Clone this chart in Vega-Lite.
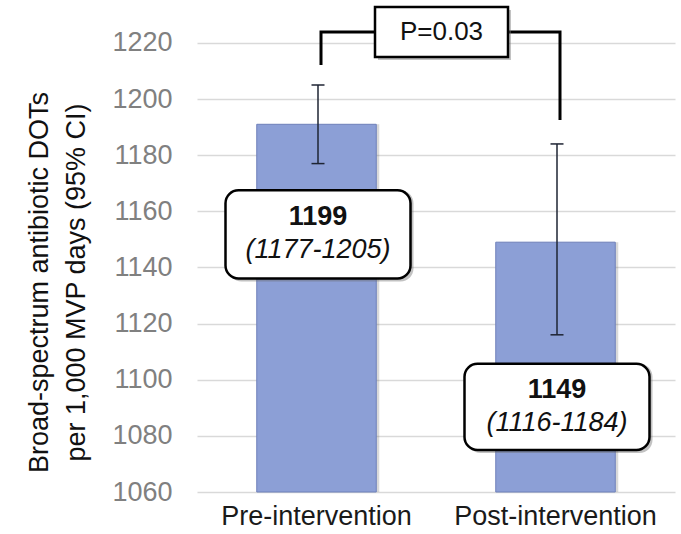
{
  "$schema": "https://vega.github.io/schema/vega-lite/v6.json",
  "width": 478,
  "height": 487,
  "autosize": {"type": "none"},
  "padding": {"left": 197, "top": 5, "right": 6, "bottom": 42},
  "background": "white",
  "config": {"view": {"stroke": null}, "font": "Liberation Sans"},
  "datasets": {
    "bars": [
      {"group": "Pre-intervention", "rate": 1191, "lo": 1177, "hi": 1205, "main": "1199", "ci": "(1177-1205)", "box_lo": 1136.1, "box_hi": 1167.5, "label_y": 1151.8},
      {"group": "Post-intervention", "rate": 1149, "lo": 1116, "hi": 1184, "main": "1149", "ci": "(1116-1184)", "box_lo": 1075.0, "box_hi": 1105.7, "label_y": 1090.4}
    ],
    "bracket": [
      {"group": "Pre-intervention", "y": 1212.1, "o": 1},
      {"group": "Pre-intervention", "y": 1223.9, "o": 2},
      {"group": "Post-intervention", "y": 1223.9, "o": 3},
      {"group": "Post-intervention", "y": 1192.5, "o": 4}
    ],
    "pval": [
      {"group": "Post-intervention", "y": 1223.9, "text": "P=0.03"}
    ]
  },
  "encoding": {
    "x": {
      "field": "group",
      "type": "nominal",
      "sort": ["Pre-intervention", "Post-intervention"],
      "scale": {"paddingInner": 0.5, "paddingOuter": 0.25},
      "axis": {"title": null, "labelAngle": 0, "labelFontSize": 27, "labelColor": "#1a1a1a", "labelPadding": 11, "labelLimit": 400, "domain": false, "ticks": false, "labelFont": "Liberation Sans"}
    }
  },
  "layer": [
    {
      "data": {"name": "bars"},
      "mark": {"type": "bar", "fill": "#666666", "opacity": 0.25, "xOffset": 3},
      "encoding": {
        "y": {
          "field": "rate",
          "type": "quantitative",
          "scale": {"domain": [1060, 1233.5], "nice": false, "zero": false},
          "axis": {
            "title": ["Broad-spectrum  antibiotic DOTs", "per 1,000 MVP days (95% CI)"],
            "values": [1060, 1080, 1100, 1120, 1140, 1160, 1180, 1200, 1220],
            "format": "d",
            "labelFontSize": 27,
            "labelColor": "#808080",
            "labelPadding": 25,
            "ticks": false,
            "domain": false,
            "gridColor": "#d9d9d9",
            "gridWidth": 1.5,
            "titleFontSize": 27,
            "titleFontWeight": "normal",
            "titleColor": "#111111",
            "titleAngle": -90,
            "titleX": -171,
            "titleY": 277,
            "titleBaseline": "top",
            "titleAlign": "center",
            "titleLineHeight": 37,
            "titleLimit": 600
          }
        },
        "y2": {"datum": 1060}
      }
    },
    {
      "data": {"name": "bars"},
      "mark": {"type": "bar", "fill": "#8c9fd6", "stroke": "#6f81ba", "strokeWidth": 1},
      "encoding": {
        "y": {"field": "rate", "type": "quantitative"},
        "y2": {"datum": 1060}
      }
    },
    {
      "data": {"name": "bars"},
      "mark": {"type": "rule", "color": "#1e2433", "strokeWidth": 1.5, "xOffset": 1.5},
      "encoding": {
        "y": {"field": "lo", "type": "quantitative"},
        "y2": {"field": "hi"}
      }
    },
    {
      "data": {"name": "bars"},
      "mark": {"type": "tick", "color": "#1e2433", "size": 13, "thickness": 1.5, "xOffset": 1.5, "opacity": 1},
      "encoding": {"y": {"field": "lo", "type": "quantitative"}}
    },
    {
      "data": {"name": "bars"},
      "mark": {"type": "tick", "color": "#1e2433", "size": 13, "thickness": 1.5, "xOffset": 1.5, "opacity": 1},
      "encoding": {"y": {"field": "hi", "type": "quantitative"}}
    },
    {
      "data": {"name": "bracket"},
      "mark": {"type": "line", "color": "#000000", "strokeWidth": 3, "xOffset": 4.5, "strokeJoin": "miter", "strokeCap": "butt"},
      "encoding": {
        "y": {"field": "y", "type": "quantitative"},
        "order": {"field": "o", "type": "quantitative"}
      }
    },
    {
      "data": {"name": "pval"},
      "mark": {"type": "point", "shape": "M-1,-0.376L1,-0.376L1,0.376L-1,0.376Z", "size": 17689, "filled": true, "fill": "#777777", "strokeWidth": 0, "opacity": 0.45, "xOffset": 8.5, "yOffset": 3},
      "encoding": {
        "x": {"field": "group", "type": "nominal", "sort": ["Pre-intervention", "Post-intervention"], "bandPosition": -0.5},
        "y": {"field": "y", "type": "quantitative"}
      }
    },
    {
      "data": {"name": "pval"},
      "mark": {"type": "point", "shape": "M-1,-0.376L1,-0.376L1,0.376L-1,0.376Z", "size": 17689, "fill": "#ffffff", "stroke": "#000000", "strokeWidth": 2.5, "opacity": 1, "fillOpacity": 1, "xOffset": 5.5},
      "encoding": {
        "x": {"field": "group", "type": "nominal", "sort": ["Pre-intervention", "Post-intervention"], "bandPosition": -0.5},
        "y": {"field": "y", "type": "quantitative"}
      }
    },
    {
      "data": {"name": "pval"},
      "mark": {"type": "text", "fontSize": 26, "color": "#111111", "baseline": "middle", "align": "center", "xOffset": 5.5},
      "encoding": {
        "x": {"field": "group", "type": "nominal", "sort": ["Pre-intervention", "Post-intervention"], "bandPosition": -0.5},
        "y": {"field": "y", "type": "quantitative"},
        "text": {"field": "text"}
      }
    },
    {
      "data": {"name": "bars"},
      "mark": {"type": "bar", "width": 185, "cornerRadius": 13, "fill": "#666666", "opacity": 0.4, "xOffset": 4.5, "yOffset": 3},
      "encoding": {
        "y": {"field": "box_lo", "type": "quantitative"},
        "y2": {"field": "box_hi"}
      }
    },
    {
      "data": {"name": "bars"},
      "mark": {"type": "bar", "width": 185, "cornerRadius": 13, "fill": "#ffffff", "stroke": "#000000", "strokeWidth": 2.5, "xOffset": 1.5},
      "encoding": {
        "y": {"field": "box_lo", "type": "quantitative"},
        "y2": {"field": "box_hi"}
      }
    },
    {
      "data": {"name": "bars"},
      "mark": {"type": "text", "fontSize": 27, "fontWeight": "bold", "color": "#111111", "baseline": "middle", "dy": -17, "xOffset": 1.5},
      "encoding": {
        "y": {"field": "label_y", "type": "quantitative"},
        "text": {"field": "main"}
      }
    },
    {
      "data": {"name": "bars"},
      "mark": {"type": "text", "fontSize": 27, "fontStyle": "italic", "color": "#111111", "baseline": "middle", "dy": 16, "xOffset": 1.5},
      "encoding": {
        "y": {"field": "label_y", "type": "quantitative"},
        "text": {"field": "ci"}
      }
    }
  ]
}
